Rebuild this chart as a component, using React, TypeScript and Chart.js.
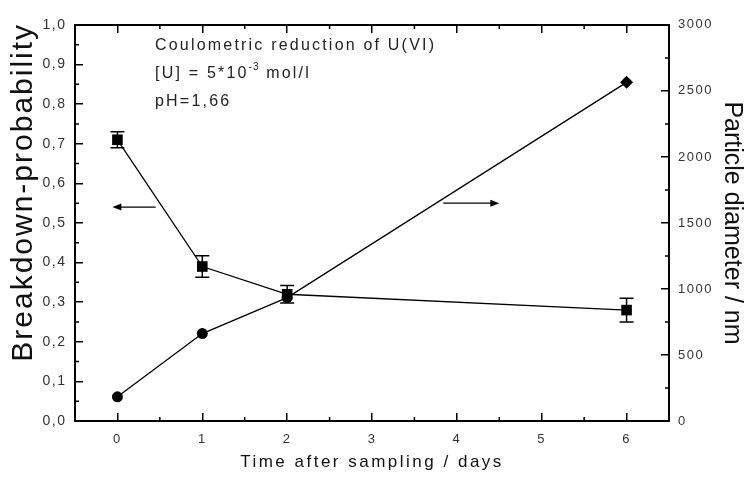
import { useEffect, useRef } from 'react';
import { Chart, registerables } from 'chart.js';

Chart.register(...registerables);

// values
const days = [0, 1, 2, 6];
const breakdownProbability = [0.71, 0.39, 0.32, 0.28];
const breakdownError = [0.02, 0.027, 0.022, 0.03];
const particleDiameter = [183, 662, 935, 2565];
const diameterMarkers = ['circle', 'circle', 'circle', 'rectRot'];

// arrows pointing to the axis each curve belongs to (data units)
const leftArrow = { from: 0.45, to: -0.06, value: 0.54 };
const rightArrow = { from: 3.84, to: 4.5, value: 1650 };

const FONT = 'Arial, "Liberation Sans", sans-serif';

const commaLabel = (v: number | string) => Number(v).toFixed(1).replace('.', ',');

const errorBars = {
  id: 'errorBars',
  beforeDatasetsDraw(chart: any) {
    const { ctx, scales } = chart;
    ctx.save();
    ctx.strokeStyle = '#000';
    ctx.lineWidth = 1.5;
    ctx.beginPath();
    days.forEach((d, i) => {
      const px = scales.x.getPixelForValue(d);
      const top = scales.y.getPixelForValue(breakdownProbability[i] + breakdownError[i]);
      const bottom = scales.y.getPixelForValue(breakdownProbability[i] - breakdownError[i]);
      ctx.moveTo(px, top);
      ctx.lineTo(px, bottom);
      ctx.moveTo(px - 7, top);
      ctx.lineTo(px + 7, top);
      ctx.moveTo(px - 7, bottom);
      ctx.lineTo(px + 7, bottom);
    });
    ctx.stroke();
    ctx.restore();
  },
};

const drawArrow = (ctx: CanvasRenderingContext2D, x1: number, x2: number, y: number) => {
  const dir = Math.sign(x2 - x1);
  ctx.beginPath();
  ctx.moveTo(x1, y);
  ctx.lineTo(x2 - dir * 6, y);
  ctx.stroke();
  ctx.beginPath();
  ctx.moveTo(x2, y);
  ctx.lineTo(x2 - dir * 9, y - 3.5);
  ctx.lineTo(x2 - dir * 9, y + 3.5);
  ctx.closePath();
  ctx.fill();
};

const decorations = {
  id: 'decorations',
  beforeDraw(chart: any) {
    // the original has widely spaced tick labels
    chart.ctx.letterSpacing = '1.5px';
  },
  afterDraw(chart: any) {
    const { ctx, chartArea: a, scales } = chart;
    ctx.save();

    // minor ticks half way between the major ones
    ctx.strokeStyle = '#000';
    ctx.lineWidth = 1.5;
    const mids = (s: any) =>
      s.ticks.slice(1).map((t: any, i: number) => s.getPixelForValue((t.value + s.ticks[i].value) / 2));
    ctx.beginPath();
    for (const px of mids(scales.x)) {
      ctx.moveTo(px, a.bottom);
      ctx.lineTo(px, a.bottom - 4);
      ctx.moveTo(px, a.top);
      ctx.lineTo(px, a.top + 4);
    }
    for (const py of mids(scales.y)) {
      ctx.moveTo(a.left, py);
      ctx.lineTo(a.left + 4, py);
    }
    for (const py of mids(scales.y2)) {
      ctx.moveTo(a.right, py);
      ctx.lineTo(a.right - 4, py);
    }
    ctx.stroke();

    // arrows
    ctx.lineWidth = 1.3;
    ctx.fillStyle = '#000';
    drawArrow(ctx, scales.x.getPixelForValue(leftArrow.from), scales.x.getPixelForValue(leftArrow.to), scales.y.getPixelForValue(leftArrow.value));
    drawArrow(ctx, scales.x.getPixelForValue(rightArrow.from), scales.x.getPixelForValue(rightArrow.to), scales.y2.getPixelForValue(rightArrow.value));

    // axis titles
    ctx.fillStyle = '#111';
    ctx.textBaseline = 'alphabetic';

    ctx.save();
    ctx.font = `30px ${FONT}`;
    ctx.letterSpacing = '2px';
    ctx.translate(a.left - 43, a.top - 2);
    ctx.rotate(-Math.PI / 2);
    ctx.textAlign = 'right';
    ctx.fillText('Breakdown-probability', 0, 0);
    ctx.restore();

    ctx.save();
    ctx.font = `25px ${FONT}`;
    ctx.letterSpacing = '0px';
    ctx.translate(a.right + 56, (a.top + a.bottom) / 2);
    ctx.rotate(Math.PI / 2);
    ctx.textAlign = 'center';
    ctx.fillText('Particle diameter / nm', 0, 0);
    ctx.restore();

    ctx.font = `17px ${FONT}`;
    ctx.letterSpacing = '2.5px';
    ctx.textAlign = 'center';
    ctx.fillText('Time after sampling / days', (a.left + a.right) / 2, a.bottom + 46);

    // experiment note
    ctx.fillStyle = '#222';
    ctx.textAlign = 'left';
    ctx.font = `16px ${FONT}`;
    ctx.letterSpacing = '2.2px';
    const nx = a.left + 80;
    ctx.fillText('Coulometric reduction of U(VI)', nx, a.top + 25);
    const part = '[U] = 5*10';
    ctx.fillText(part, nx, a.top + 53);
    let w = ctx.measureText(part).width;
    ctx.font = `10px ${FONT}`;
    ctx.letterSpacing = '1px';
    ctx.fillText('-3', nx + w, a.top + 45);
    w += ctx.measureText('-3').width;
    ctx.font = `16px ${FONT}`;
    ctx.letterSpacing = '2.2px';
    ctx.fillText(' mol/l', nx + w, a.top + 53);
    ctx.fillText('pH=1,66', nx, a.top + 81);

    ctx.restore();
  },
};

const onlyIntegers = (scale: any) => {
  scale.ticks = scale.ticks.filter((t: any) => Math.abs(t.value - Math.round(t.value)) < 1e-9);
};

const axisGrid = { drawOnChartArea: false, tickLength: -8, tickColor: '#000', tickWidth: 1.5, lineWidth: 1.5 };
const axisBorder = { color: '#000', width: 2 };

export default function App() {
  const canvasRef = useRef<HTMLCanvasElement>(null);
  const chartRef = useRef<Chart | null>(null);

  useEffect(() => {
    if (chartRef.current) chartRef.current.destroy();
    if (!canvasRef.current) return;

    chartRef.current = new Chart(canvasRef.current, {
      type: 'line',
      data: {
        datasets: [
          {
            label: 'Breakdown-probability',
            data: days.map((d, i) => ({ x: d, y: breakdownProbability[i] })),
            yAxisID: 'y',
            borderColor: '#000',
            backgroundColor: '#000',
            borderWidth: 1.3,
            pointStyle: 'rect',
            pointRadius: 7.5,
            pointBorderWidth: 0,
            tension: 0,
          },
          {
            label: 'Particle diameter / nm',
            data: days.map((d, i) => ({ x: d, y: particleDiameter[i] })),
            yAxisID: 'y2',
            borderColor: '#000',
            backgroundColor: '#000',
            borderWidth: 1.3,
            pointStyle: diameterMarkers as any,
            pointRadius: [5.5, 5.5, 5.5, 6.5],
            pointBorderWidth: 0,
            tension: 0,
          },
        ],
      },
      options: {
        animation: false,
        responsive: true,
        maintainAspectRatio: false,
        layout: { padding: 0 },
        plugins: {
          legend: { display: false },
          tooltip: { enabled: false },
        },
        scales: {
          x: {
            type: 'linear',
            position: 'bottom',
            min: -0.5,
            max: 6.5,
            ticks: {
              stepSize: 0.5,
              autoSkip: false,
              maxRotation: 0,
              padding: 19,
              color: '#333',
              font: { family: FONT, size: 13 },
            },
            afterBuildTicks: onlyIntegers,
            afterFit: (s: any) => { s.height = 63; },
            grid: axisGrid,
            border: axisBorder,
          },
          x2: {
            type: 'linear',
            position: 'top',
            min: -0.5,
            max: 6.5,
            ticks: { stepSize: 0.5, autoSkip: false, display: false },
            afterBuildTicks: onlyIntegers,
            afterFit: (s: any) => { s.height = 12; },
            grid: axisGrid,
            border: axisBorder,
          },
          y: {
            type: 'linear',
            position: 'left',
            min: 0,
            max: 1,
            ticks: {
              stepSize: 0.1,
              maxTicksLimit: 100,
              padding: 16.5,
              color: '#333',
              font: { family: FONT, size: 14 },
              callback: commaLabel,
            },
            afterFit: (s: any) => { s.width = 75; },
            grid: axisGrid,
            border: axisBorder,
          },
          y2: {
            type: 'linear',
            position: 'right',
            min: 0,
            max: 3000,
            ticks: {
              stepSize: 500,
              maxTicksLimit: 100,
              padding: 17,
              color: '#333',
              font: { family: FONT, size: 13 },
              callback: (v: number | string) => String(v),
            },
            afterFit: (s: any) => { s.width = 78; },
            grid: axisGrid,
            border: axisBorder,
          },
        },
      },
      plugins: [errorBars, decorations],
    });

    return () => {
      if (chartRef.current) {
        chartRef.current.destroy();
        chartRef.current = null;
      }
    };
  }, []);

  return (
    <div style={{ position: 'absolute', left: 0, top: 0, width: 747, height: 484, background: '#fff' }}>
      <canvas ref={canvasRef}></canvas>
    </div>
  );
}
